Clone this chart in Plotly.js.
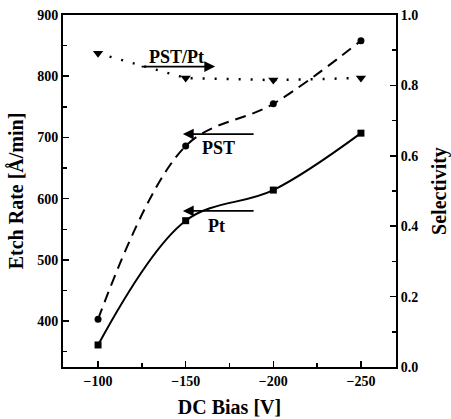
<!DOCTYPE html>
<html>
<head>
<meta charset="utf-8">
<script src="https://cdn.plot.ly/plotly-3.0.1.min.js"></script>
<style>html,body{margin:0;padding:0;background:#fff;}#chart{width:451px;height:419px;}</style>
</head>
<body>
<div id="chart"></div>
<script>
const bias = [-100, -150, -200, -250];
const pstRate = [403, 686, 755, 858];
const ptRate = [361, 564, 614, 707];
const selectivity = [0.891, 0.821, 0.815, 0.821];

const F = 'Liberation Serif, Times New Roman, serif';

const traces = [
  {x: bias, y: ptRate, type: 'scatter', mode: 'lines+markers', name: 'Pt',
   line: {color: '#000', width: 2, shape: 'spline'},
   marker: {symbol: 'square', size: 7, color: '#000'}},
  {x: bias, y: pstRate, type: 'scatter', mode: 'lines+markers', name: 'PST',
   line: {color: '#000', width: 2, dash: '11px,7px', shape: 'spline'},
   marker: {symbol: 'circle', size: 7, color: '#000'}},
  {x: bias, y: selectivity, type: 'scatter', mode: 'lines+markers', name: 'PST/Pt', yaxis: 'y2',
   line: {color: '#000', width: 2.5, dash: '2px,10px'},
   marker: {symbol: 'triangle-down', size: 9, color: '#000'}}
];

const ann = (text, x, y) => ({text: text, x: x, y: y, xref: 'x', yref: 'y', showarrow: false,
  font: {family: F, size: 18, color: '#000', weight: 'bold'}});
const arrow = (x, y, ax, ay) => ({text: '', x: x, y: y, ax: ax, ay: ay, xref: 'x', yref: 'y',
  axref: 'x', ayref: 'y', showarrow: true, arrowhead: 2, arrowsize: 1.2, arrowwidth: 1.8, arrowcolor: '#000'});

const layout = {
  width: 451, height: 419,
  margin: {l: 63, r: 55, t: 15, b: 52},
  paper_bgcolor: '#fff', plot_bgcolor: '#fff',
  showlegend: false,
  font: {family: F, size: 14, color: '#000', weight: 'bold'},
  xaxis: {
    range: [-80, -270], tickvals: [-100, -150, -200, -250],
    ticks: 'inside', ticklen: 6, tickwidth: 1.5, tickcolor: '#000',
    minor: {tickvals: [-125, -175, -225], ticks: 'inside', ticklen: 4, tickcolor: '#000', tickwidth: 1.5},
    showline: true, linewidth: 2, linecolor: '#000', mirror: true,
    showgrid: false, zeroline: false,
    title: {text: 'DC Bias [V]', font: {family: F, size: 20, weight: 'bold'}, standoff: 12}
  },
  yaxis: {
    range: [325, 900], tickvals: [400, 500, 600, 700, 800, 900],
    ticks: 'inside', ticklen: 6, tickwidth: 1.5, tickcolor: '#000',
    minor: {tickvals: [350, 450, 550, 650, 750, 850], ticks: 'inside', ticklen: 4, tickcolor: '#000', tickwidth: 1.5},
    showline: true, linewidth: 2, linecolor: '#000',
    showgrid: false, zeroline: false,
    title: {text: 'Etch Rate [Å/min]', font: {family: F, size: 20, weight: 'bold'}, standoff: 8}
  },
  yaxis2: {
    overlaying: 'y', side: 'right',
    range: [0, 1], tickvals: [0, 0.2, 0.4, 0.6, 0.8, 1.0], ticktext: ['0.0', '0.2', '0.4', '0.6', '0.8', '1.0'],
    ticks: 'inside', ticklen: 6, tickwidth: 1.5, tickcolor: '#000',
    minor: {tickvals: [0.1, 0.3, 0.5, 0.7, 0.9], ticks: 'inside', ticklen: 4, tickcolor: '#000', tickwidth: 1.5},
    showline: true, linewidth: 2, linecolor: '#000',
    showgrid: false, zeroline: false,
    title: {text: 'Selectivity', font: {family: F, size: 20, weight: 'bold'}, standoff: 18}
  },
  annotations: [
    ann('PST/Pt', -144.6, 832),
    arrow(-166.8, 815.7, -124, 815.7),
    ann('PST', -168.5, 683),
    arrow(-148.4, 705.5, -189.6, 705.5),
    ann('Pt', -167.4, 556),
    arrow(-148.4, 580, -189.6, 580)
  ]
};

Plotly.newPlot('chart', traces, layout, {displayModeBar: false, staticPlot: true});
</script>
</body>
</html>
